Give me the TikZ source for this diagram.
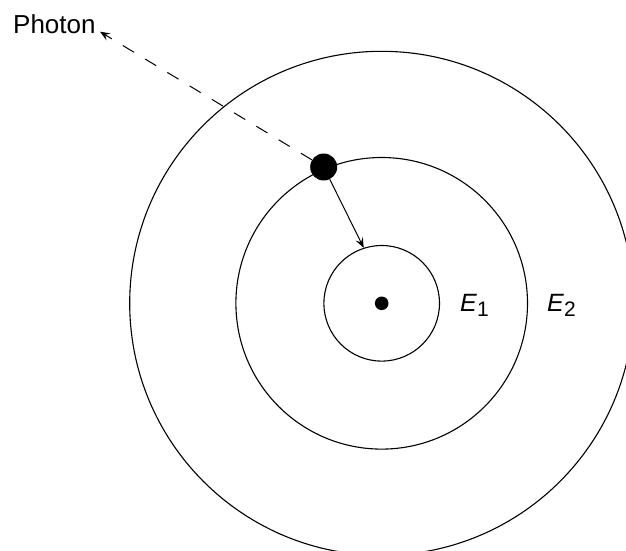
\documentclass[tikz,border=0pt]{standalone}
\usepackage{fontspec}
\setmainfont{Liberation Sans}
\usetikzlibrary{arrows.meta}

\begin{document}
\begin{tikzpicture}[
    x=1pt, y=-1pt,
    >={Stealth[length=10pt,width=8pt,inset=4pt]},
    orbit/.style={circle, draw, line width=1.1pt, inner sep=0pt},
    particle/.style={circle, fill=black, inner sep=0pt},
    jump/.style={->, line width=1pt},
    photon/.style={->, line width=1pt, dash pattern=on 13pt off 13pt},
    level_label/.style={font=\fontsize{25}{30}\selectfont, anchor=base west, inner sep=0pt}
  ]
  \useasboundingbox (0,0) rectangle (626,551);
  \clip (0,0) rectangle (626,551);

  % Centre of the atom
  \coordinate (C) at (381.7,303.3);

  % Energy levels (orbits)
  \node[orbit, minimum size=504pt] (orb3) at (C) {};
  \node[orbit, minimum size=291.6pt] (orb2) at (C) {};
  \node[orbit, minimum size=115.6pt] (orb1) at (C) {};

  % Nucleus and electron
  \node[particle, minimum size=13.6pt] (nuc) at (C) {};
  \node[particle, minimum size=27pt] (el) at (323.7,167) {};

  % Level labels
  \node[level_label] (lab1) at (460,311) {\textit{E}\raisebox{-5pt}{\fontsize{21}{22}\selectfont 1}};
  \node[level_label] (lab2) at (547,311) {\textit{E}\raisebox{-5pt}{\fontsize{21}{22}\selectfont 2}};

  % Emitted photon
  \node[font=\fontsize{26}{30}\selectfont, anchor=base west, inner sep=0pt] (ph) at (13,34) {Photon};
  \coordinate (phtip) at (100,31.7);
  \draw[photon] (el) -- (phtip);

  % Electron drops to the lower level
  \draw[jump] (el) -- (orb1.108);
\end{tikzpicture}
\end{document}
